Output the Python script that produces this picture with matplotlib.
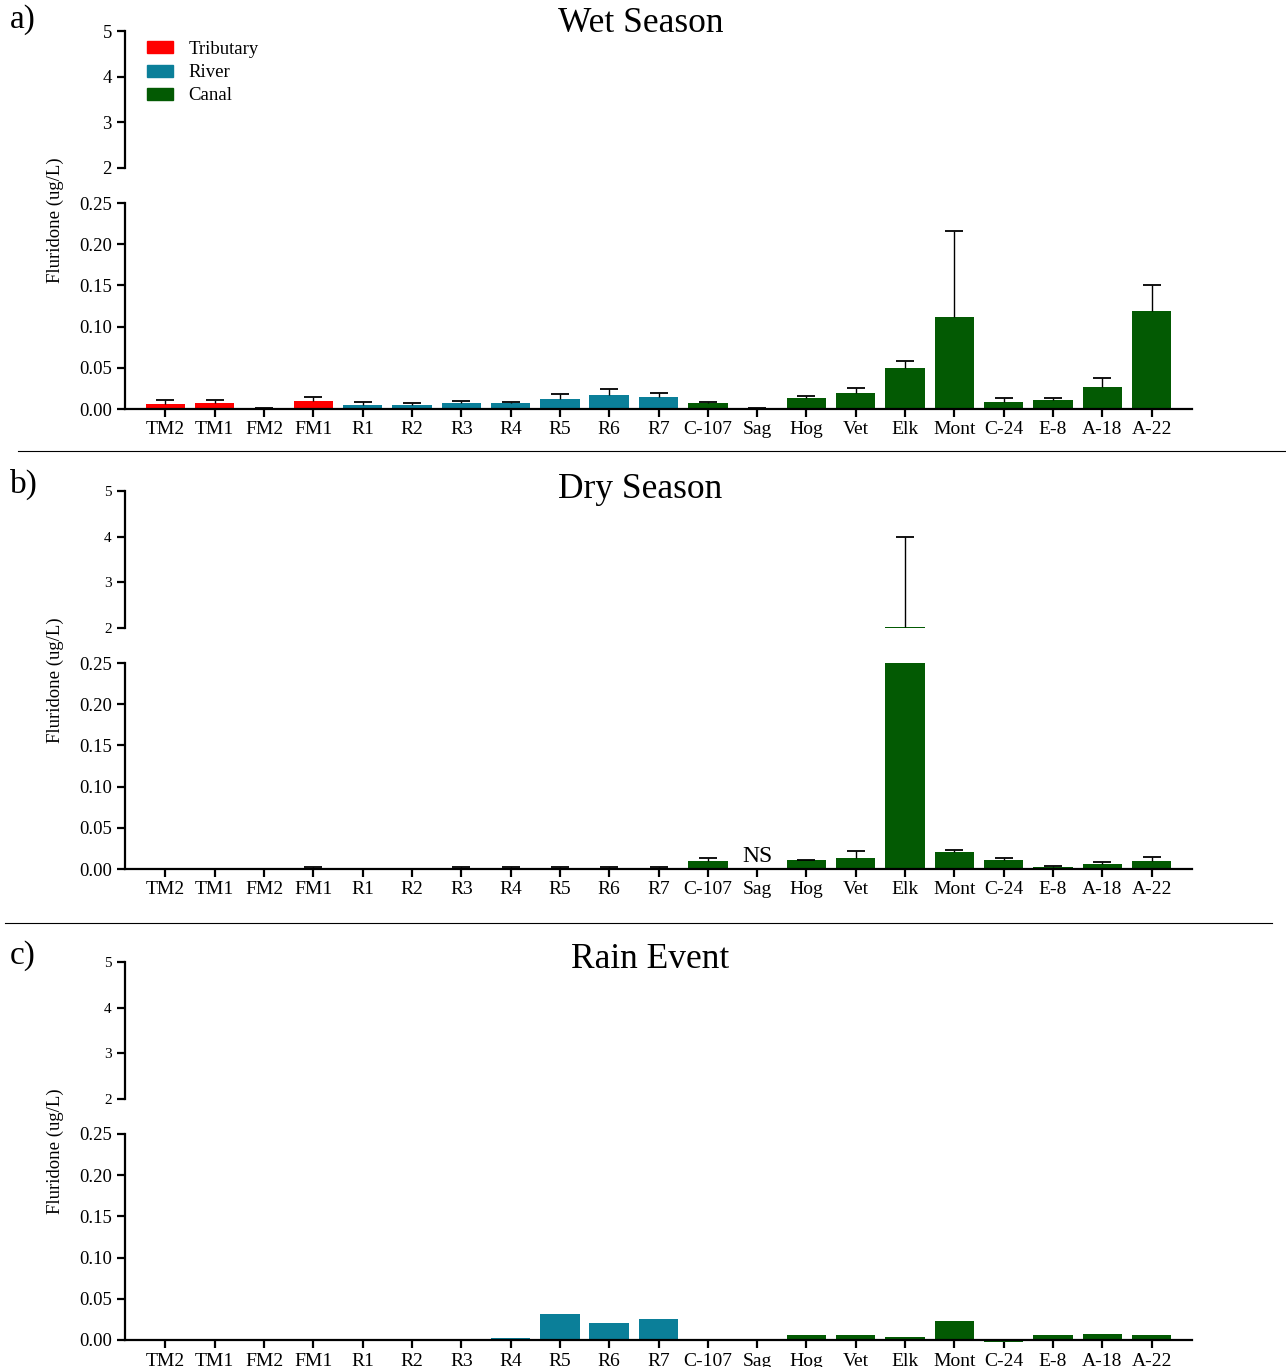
import matplotlib
matplotlib.use("Agg")
import matplotlib.pyplot as plt
from matplotlib.patches import Patch
from matplotlib.lines import Line2D

plt.rcParams['font.family'] = ['Liberation Serif', 'DejaVu Serif']

# sites and group of each site
sites = ["TM2", "TM1", "FM2", "FM1", "R1", "R2", "R3", "R4", "R5", "R6", "R7",
         "C-107", "Sag", "Hog", "Vet", "Elk", "Mont", "C-24", "E-8", "A-18", "A-22"]
groups = ["Tributary"] * 4 + ["River"] * 7 + ["Canal"] * 10
group_colors = {"Tributary": "#ff0000", "River": "#0b7f99", "Canal": "#035a03"}

# wet season mean and error (ug/L)
wet_mean = [0.0057, 0.0073, 0.0010, 0.0097, 0.0045, 0.0045, 0.0077, 0.0073, 0.0121, 0.0170, 0.0146,
            0.0077, 0.0005, 0.0137, 0.0198, 0.0500, 0.1117, 0.0085, 0.0113, 0.0270, 0.1190]
wet_err = [0.0053, 0.0037, 0.0005, 0.0043, 0.0035, 0.0025, 0.0016, 0.0012, 0.0057, 0.0073, 0.0044,
           0.0008, 0.0005, 0.0016, 0.0052, 0.0078, 0.1040, 0.0045, 0.0024, 0.0103, 0.0320]

# dry season (Sag not sampled)
dry_mean = [0.0004, 0.0004, 0.0004, 0.0008, 0.0003, 0.0003, 0.0006, 0.0006, 0.0010, 0.0010, 0.0006,
            0.0097, 0.0, 0.0109, 0.0137, 2.02, 0.0206, 0.0109, 0.0024, 0.0060, 0.0097]
dry_err = [0.0, 0.0, 0.0, 0.0012, 0.0, 0.0, 0.0014, 0.0014, 0.0020, 0.0020, 0.0014,
           0.0040, 0.0, 0.0, 0.0077, 1.98, 0.0021, 0.0021, 0.0009, 0.0020, 0.0045]

# rain event, no error bars
rain_mean = [-0.0018, -0.0018, 0.0, -0.0015, 0.0, -0.0008, -0.0012, 0.0020, 0.0312, 0.0210, 0.0250,
             0.0006, 0.0, 0.0057, 0.0060, 0.0036, 0.0230, -0.0020, 0.0057, 0.0073, 0.0060]

W, H = 1286, 1367
fig = plt.figure(figsize=(W / 100, H / 100), dpi=100)


def box(x0, x1, ytop, ybot):
    return [x0 / W, 1 - ybot / H, (x1 - x0) / W, (ybot - ytop) / H]


def style(ax):
    for s in ["top", "right"]:
        ax.spines[s].set_visible(False)
    ax.spines["left"].set_linewidth(1.6)
    ax.spines["bottom"].set_linewidth(1.6)
    ax.tick_params(direction="out", length=6, width=1.6, labelsize=13.5)


def panel(top, letter, letter_y, title, title_x, title_y, means, errs,
          up_size=13.5, ns=False, clip_low=True):
    colors = [group_colors[g] for g in groups]
    x = list(range(len(sites)))
    up = fig.add_axes(box(125, 1192, top, top + 137))
    low = fig.add_axes(box(125, 1192, top + 172, top + 378))
    for ax in (up, low):
        bars = ax.bar(x, means, width=0.8, color=colors, edgecolor="none", zorder=2)
        if ax is low and not clip_low:
            # let the small negative values show below the axis line
            for b in bars:
                b.set_clip_on(False)
        if errs is not None:
            tops = [m + e for m, e in zip(means, errs)]
            ax.vlines(x, means, tops, color="black", lw=1, zorder=3)
            ax.plot(x, tops, ls="none", marker="_", markersize=12.5, mew=1.3,
                    color="black", zorder=3)
        ax.set_xlim(-0.82, 20.82)
        style(ax)
    up.set_ylim(2, 5)
    up.set_yticks([2, 3, 4, 5])
    up.tick_params(axis="y", labelsize=up_size)
    up.spines["bottom"].set_visible(False)
    up.set_xticks([])
    low.set_ylim(0, 0.25)
    low.set_yticks([0, 0.05, 0.10, 0.15, 0.20, 0.25])
    low.set_yticklabels(["0.00", "0.05", "0.10", "0.15", "0.20", "0.25"])
    low.set_xticks(x)
    low.set_xticklabels(sites, fontsize=14)
    low.tick_params(axis="x", pad=3)
    if ns:
        low.text(12, 0.002, "NS", ha="center", va="bottom", fontsize=17)
    fig.text(55 / W, 1 - (top + 189) / H, "Fluridone (ug/L)", rotation=90,
             ha="center", va="center", fontsize=13.5)
    fig.text(title_x / W, 1 - title_y / H, title, ha="center", va="center", fontsize=25.5)
    fig.text(10 / W, 1 - letter_y / H, letter, ha="left", va="center", fontsize=24)
    return up, low


panel(31, "a)", 20, "Wet Season", 641, 24, wet_mean, wet_err)
panel(491, "b)", 484, "Dry Season", 640, 490, dry_mean, dry_err, up_size=11, ns=True)
panel(962, "c)", 956, "Rain Event", 650, 960, rain_mean, None, up_size=11, clip_low=False)

handles = [Patch(color=group_colors[g], label=g) for g in ["Tributary", "River", "Canal"]]
fig.legend(handles=handles, loc="upper left", bbox_to_anchor=(147 / W, 1 - 41 / H),
           frameon=False, fontsize=13.5, handlelength=1.4, handleheight=0.6,
           handletextpad=0.8, labelspacing=0.33, borderaxespad=0, borderpad=0)

# separators between panels
fig.add_artist(Line2D([18 / W, 1285 / W], [1 - 451 / H, 1 - 451 / H], color="black", lw=0.8))
fig.add_artist(Line2D([5 / W, 1272 / W], [1 - 923 / H, 1 - 923 / H], color="black", lw=0.8))

fig.savefig("out.png", dpi=100)
